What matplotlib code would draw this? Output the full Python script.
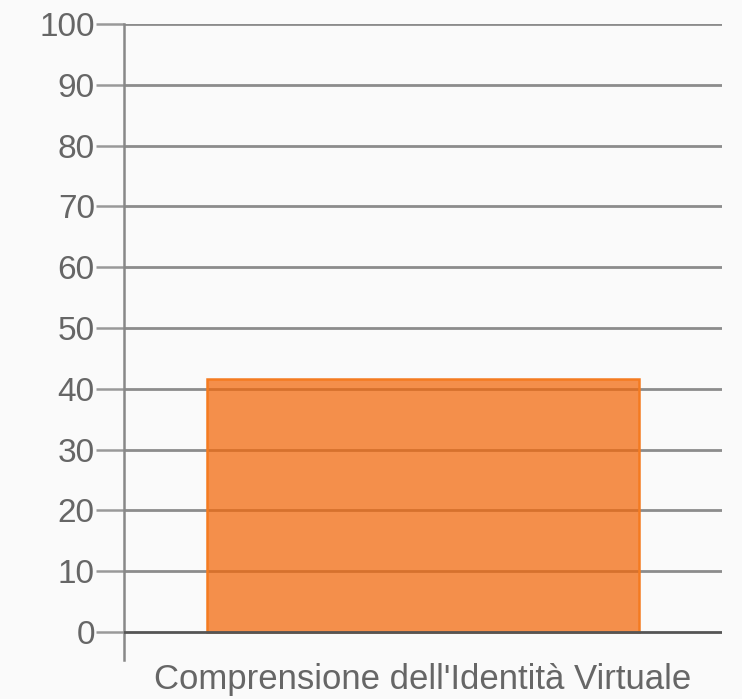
import matplotlib.pyplot as plt

categories = ["Comprensione dell'Identità Virtuale"]
values = [41.6]
y_ticks = [0, 10, 20, 30, 40, 50, 60, 70, 80, 90, 100]

plt.rcParams["font.family"] = ["Liberation Sans", "DejaVu Sans"]

fig = plt.figure(figsize=(7.42, 6.99), dpi=100, facecolor="#fafafa")
ax = fig.add_axes([124 / 742, 1 - 660 / 699, (722 - 124) / 742, (660 - 24) / 699])
ax.set_facecolor("#fafafa")

for v in y_ticks:
    if v == 0:
        continue
    ax.axhline(v, color="#8c8c8c", linewidth=2.0, zorder=1)

x = list(range(len(categories)))
ax.bar(x, values, width=0.722, color="#f3670a", alpha=0.73, edgecolor="none", zorder=2)
ax.bar(x, values, width=0.722, color="none", edgecolor="#f47b20", linewidth=1.8, zorder=2)
ax.axhline(0, color="#555555", linewidth=2.0, zorder=3)

ax.set_xlim(-0.5, 0.5)
ax.set_ylim(-(660 - 632) / 6.08, 100)
ax.set_yticks(y_ticks)
ax.set_yticklabels([str(v) for v in y_ticks])
ax.tick_params(axis="y", length=20, width=1.8, color="#999999", labelcolor="#666666",
               labelsize=24, pad=1)
ax.set_xticks(x)
ax.set_xticklabels(categories)
ax.tick_params(axis="x", length=0, labelcolor="#666666", labelsize=25, pad=2)

for side in ["top", "right", "bottom"]:
    ax.spines[side].set_visible(False)
ax.spines["left"].set_color("#888888")
ax.spines["left"].set_linewidth(1.8)

fig.savefig("out.png", dpi=100, facecolor=fig.get_facecolor())
